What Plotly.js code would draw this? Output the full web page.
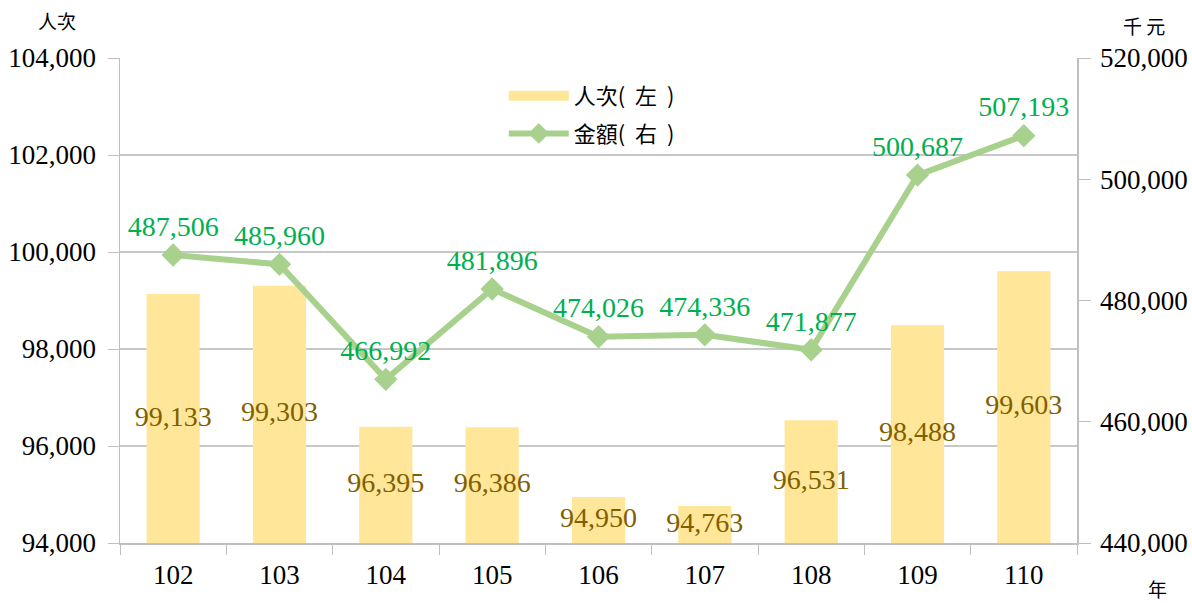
<!DOCTYPE html>
<html>
<head>
<meta charset="utf-8">
<script src="https://cdn.plot.ly/plotly-3.0.1.min.js"></script>
<style>html,body{margin:0;padding:0;background:#fff;}#chart{width:1192px;height:603px;}</style>
</head>
<body>
<div id="chart"></div>
<script>
const years = ['102','103','104','105','106','107','108','109','110'];
const persons = [99133, 99303, 96395, 96386, 94950, 94763, 96531, 98488, 99603];
const amounts = [487506, 485960, 466992, 481896, 474026, 474336, 471877, 500687, 507193];
const leftTicks = [94000, 96000, 98000, 100000, 102000, 104000];
const rightTicks = [440000, 460000, 480000, 500000, 520000];
const nameBar = '人次(\u00a0\u00a0左\u00a0\u00a0)';
const nameLine = '金額(\u00a0\u00a0右\u00a0\u00a0)';

const fmt = v => v.toLocaleString('en-US');
const serif = '"Liberation Serif"';
const cjk = '"Noto Sans CJK TC"';
const leftMin = 94000;

const traces = [
  {
    type: 'bar', x: years, y: persons, yaxis: 'y', width: 0.5,
    marker: {color: '#FFE699'}, showlegend: false, hoverinfo: 'skip'
  },
  {
    type: 'scatter', mode: 'text', x: years,
    y: persons.map(v => (v + leftMin) / 2),
    text: persons.map(fmt), textposition: 'middle center',
    textfont: {family: serif, size: 28, color: '#7F6000'},
    showlegend: false, hoverinfo: 'skip', yaxis: 'y', cliponaxis: false
  },
  {
    type: 'scatter', mode: 'lines+markers+text', x: years, y: amounts, yaxis: 'y2',
    line: {color: '#A9D18E', width: 6},
    marker: {symbol: 'diamond', size: 18, color: '#A9D18E'},
    text: amounts.map(fmt), textposition: 'top center',
    textfont: {family: serif, size: 28, color: '#00B050'},
    showlegend: false, cliponaxis: false
  },
  {
    type: 'scatter', mode: 'lines', x: [null], y: [null], name: nameBar,
    line: {color: '#FFE699', width: 16}, legendgroup: 'a', legendrank: 1
  },
  {
    type: 'scatter', mode: 'lines+markers', x: [null], y: [null], name: nameLine,
    line: {color: '#A9D18E', width: 6}, marker: {symbol: 'diamond', size: 16, color: '#A9D18E'},
    legendgroup: 'b', legendrank: 2
  }
];

const layout = {
  width: 1192, height: 603,
  margin: {l: 120, r: 115, t: 58, b: 60},
  paper_bgcolor: '#ffffff', plot_bgcolor: '#ffffff',
  showlegend: true,
  legend: {
    x: 0.401, y: 0.965, xanchor: 'left', yanchor: 'top',
    font: {family: cjk, size: 22, color: '#000'},
    itemwidth: 60, tracegroupgap: 6, traceorder: 'grouped',
    bgcolor: 'rgba(0,0,0,0)'
  },
  xaxis: {
    type: 'category', range: [-0.5, 8.5], tickson: 'boundaries', ticks: 'outside', ticklen: 10,
    tickcolor: '#BFBFBF', showline: true, linecolor: '#BFBFBF', linewidth: 1.5,
    showgrid: false, tickfont: {family: serif, size: 27, color: '#000'},
    ticklabelstandoff: 7
  },
  yaxis: {
    range: [94000, 104000], tickvals: leftTicks, ticktext: leftTicks.map(fmt),
    ticks: 'outside', ticklen: 11, tickcolor: '#BFBFBF',
    showline: true, linecolor: '#BFBFBF', linewidth: 1.5,
    showgrid: true, gridcolor: '#C8C8C8', gridwidth: 1.3, zeroline: false,
    tickfont: {family: serif, size: 27, color: '#000'}, ticklabelstandoff: 6
  },
  yaxis2: {
    overlaying: 'y', side: 'right',
    range: [440000, 520000], tickvals: rightTicks, ticktext: rightTicks.map(fmt),
    ticks: 'outside', ticklen: 12, tickcolor: '#BFBFBF',
    showline: true, linecolor: '#BFBFBF', linewidth: 1.5,
    showgrid: false, zeroline: false,
    tickfont: {family: serif, size: 27, color: '#000'}, ticklabelstandoff: 4
  },
  annotations: [
    {text: '人次', xref: 'paper', yref: 'paper', x: (57 - 120) / 957, y: (543 - 20) / 485,
     xanchor: 'center', yanchor: 'middle', showarrow: false, font: {family: cjk, size: 19, color: '#000'}},
    {text: '千\u00a0元', xref: 'paper', yref: 'paper', x: (1144 - 120) / 957, y: (543 - 25) / 485,
     xanchor: 'center', yanchor: 'middle', showarrow: false, font: {family: cjk, size: 19, color: '#000'}},
    {text: '年', xref: 'paper', yref: 'paper', x: (1157 - 120) / 957, y: (543 - 588) / 485,
     xanchor: 'center', yanchor: 'middle', showarrow: false, font: {family: cjk, size: 19, color: '#000'}}
  ]
};

Plotly.newPlot('chart', traces, layout, {displayModeBar: false, staticPlot: true});
</script>
</body>
</html>
